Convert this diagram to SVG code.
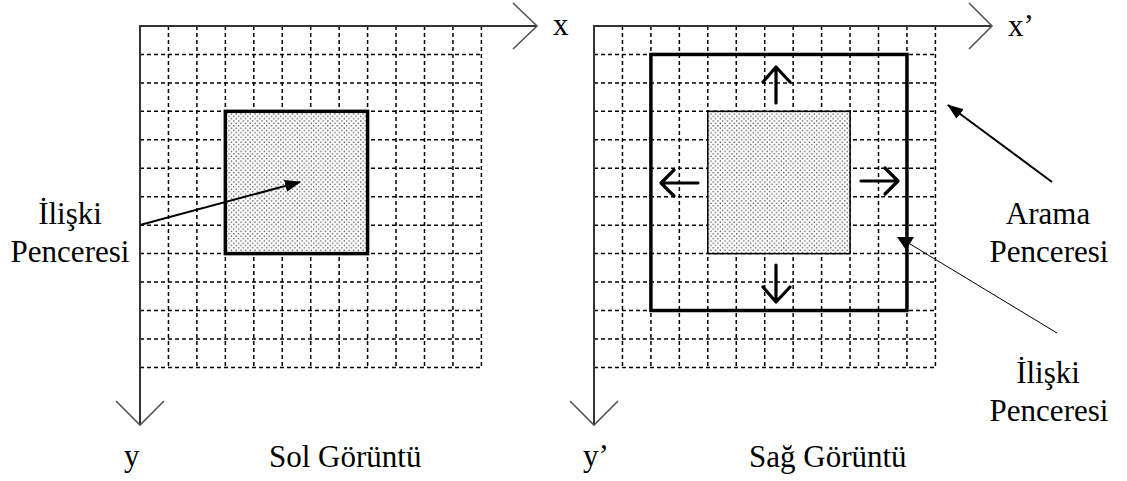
<svg xmlns="http://www.w3.org/2000/svg" width="1127" height="481" viewBox="0 0 1127 481">
<style>
.grid line{stroke:#000;stroke-width:1.5;stroke-dasharray:4 3}
.axis{stroke:#333;stroke-width:2;fill:none}
.chev{stroke:#555;stroke-width:1.6;fill:none}
.thick{stroke:#000;stroke-width:3.5}
.mv{stroke:#000;stroke-width:3.2;fill:none;stroke-linecap:round;stroke-linejoin:round}
.ptr{stroke:#000;stroke-width:2;fill:none}
text{font-family:"Liberation Serif","Times New Roman",serif;font-size:31px;fill:#000}
</style>
<defs>
<pattern id="dots" width="4.7" height="4.7" patternUnits="userSpaceOnUse">
<rect width="4.7" height="4.7" fill="#fff"/>
<circle cx="1.2" cy="1.2" r="0.75" fill="#333"/>
<circle cx="3.55" cy="3.55" r="0.75" fill="#333"/>
</pattern>
<marker id="head" viewBox="0 0 16 12" refX="15" refY="6" markerWidth="16" markerHeight="12" markerUnits="userSpaceOnUse" orient="auto">
<path d="M0,0 L16,6 L0,12 Z" fill="#000"/>
</marker>
</defs>

<g id="left-grid" class="grid">
<line x1="168.45" y1="26" x2="168.45" y2="367.4"/>
<line x1="196.9" y1="26" x2="196.9" y2="367.4"/>
<line x1="225.35" y1="26" x2="225.35" y2="367.4"/>
<line x1="253.8" y1="26" x2="253.8" y2="367.4"/>
<line x1="282.25" y1="26" x2="282.25" y2="367.4"/>
<line x1="310.7" y1="26" x2="310.7" y2="367.4"/>
<line x1="339.15" y1="26" x2="339.15" y2="367.4"/>
<line x1="367.6" y1="26" x2="367.6" y2="367.4"/>
<line x1="396.05" y1="26" x2="396.05" y2="367.4"/>
<line x1="424.5" y1="26" x2="424.5" y2="367.4"/>
<line x1="452.95" y1="26" x2="452.95" y2="367.4"/>
<line x1="481.4" y1="26" x2="481.4" y2="367.4"/>
<line x1="140" y1="54.45" x2="481.4" y2="54.45"/>
<line x1="140" y1="82.9" x2="481.4" y2="82.9"/>
<line x1="140" y1="111.35" x2="481.4" y2="111.35"/>
<line x1="140" y1="139.8" x2="481.4" y2="139.8"/>
<line x1="140" y1="168.25" x2="481.4" y2="168.25"/>
<line x1="140" y1="196.7" x2="481.4" y2="196.7"/>
<line x1="140" y1="225.15" x2="481.4" y2="225.15"/>
<line x1="140" y1="253.6" x2="481.4" y2="253.6"/>
<line x1="140" y1="282.05" x2="481.4" y2="282.05"/>
<line x1="140" y1="310.5" x2="481.4" y2="310.5"/>
<line x1="140" y1="338.95" x2="481.4" y2="338.95"/>
<line x1="140" y1="367.4" x2="481.4" y2="367.4"/>
</g>

<g id="right-grid" class="grid">
<line x1="622.45" y1="26" x2="622.45" y2="367.4"/>
<line x1="650.9" y1="26" x2="650.9" y2="367.4"/>
<line x1="679.35" y1="26" x2="679.35" y2="367.4"/>
<line x1="707.8" y1="26" x2="707.8" y2="367.4"/>
<line x1="736.25" y1="26" x2="736.25" y2="367.4"/>
<line x1="764.7" y1="26" x2="764.7" y2="367.4"/>
<line x1="793.15" y1="26" x2="793.15" y2="367.4"/>
<line x1="821.6" y1="26" x2="821.6" y2="367.4"/>
<line x1="850.05" y1="26" x2="850.05" y2="367.4"/>
<line x1="878.5" y1="26" x2="878.5" y2="367.4"/>
<line x1="906.95" y1="26" x2="906.95" y2="367.4"/>
<line x1="935.4" y1="26" x2="935.4" y2="367.4"/>
<line x1="594" y1="54.45" x2="935.4" y2="54.45"/>
<line x1="594" y1="82.9" x2="935.4" y2="82.9"/>
<line x1="594" y1="111.35" x2="935.4" y2="111.35"/>
<line x1="594" y1="139.8" x2="935.4" y2="139.8"/>
<line x1="594" y1="168.25" x2="935.4" y2="168.25"/>
<line x1="594" y1="196.7" x2="935.4" y2="196.7"/>
<line x1="594" y1="225.15" x2="935.4" y2="225.15"/>
<line x1="594" y1="253.6" x2="935.4" y2="253.6"/>
<line x1="594" y1="282.05" x2="935.4" y2="282.05"/>
<line x1="594" y1="310.5" x2="935.4" y2="310.5"/>
<line x1="594" y1="338.95" x2="935.4" y2="338.95"/>
<line x1="594" y1="367.4" x2="935.4" y2="367.4"/>
</g>

<g id="left-axes">
<path class="axis" d="M537,26 L140,26 L140,425"/>
<path class="chev" d="M513,3 L537,26 L513,49"/>
<path class="chev" d="M116,401 L140,425 L164,401"/>
<text x="553" y="35">x</text>
<text x="124" y="466">y</text>
</g>

<g id="right-axes">
<path class="axis" d="M992,26 L594,26 L594,425"/>
<path class="chev" d="M969,3 L992,26 L969,49"/>
<path class="chev" d="M570,401 L594,425 L618,401"/>
<text x="1008" y="36">x’</text>
<text x="583" y="466">y’</text>
</g>

<g id="left-window">
<rect x="225.35" y="111.35" width="142.25" height="142.25" fill="url(#dots)" class="thick"/>
</g>

<g id="search-window">
<rect x="650.9" y="54.45" width="256.05" height="256.05" fill="none" class="thick"/>
</g>

<g id="right-window">
<rect x="707.8" y="111.35" width="142.25" height="142.25" fill="url(#dots)" stroke="#000" stroke-width="1.5"/>
</g>

<g id="move-arrows">
<path class="mv" d="M776,103 L776,68 M763,82 L776,67 L790,82"/>
<path class="mv" d="M776,265 L776,301 M763,287 L776,302 L790,287"/>
<path class="mv" d="M698,183 L662,183 M674,170 L661,183 L674,196"/>
<path class="mv" d="M861,181 L897,181 M885,168 L898,181 L885,194"/>
</g>

<g id="labels">
<text x="70" y="224" text-anchor="middle">İlişki</text>
<text x="70" y="262" text-anchor="middle">Penceresi</text>
<text x="1048" y="224" text-anchor="middle">Arama</text>
<text x="1049" y="262" text-anchor="middle">Penceresi</text>
<text x="1048" y="383" text-anchor="middle">İlişki</text>
<text x="1049" y="421" text-anchor="middle">Penceresi</text>
<text x="269" y="467">Sol Görüntü</text>
<text x="749" y="467">Sağ Görüntü</text>
</g>

<g id="connectors">
<line class="ptr" x1="140" y1="225" x2="300" y2="182" marker-end="url(#head)"/>
<line class="ptr" x1="1052" y1="182" x2="948" y2="105" marker-end="url(#head)"/>
<line x1="1057" y1="333" x2="910" y2="244" stroke="#000" stroke-width="1"/>
<polygon points="897,237 914,237 906,250" fill="#000"/>
</g>
</svg>
